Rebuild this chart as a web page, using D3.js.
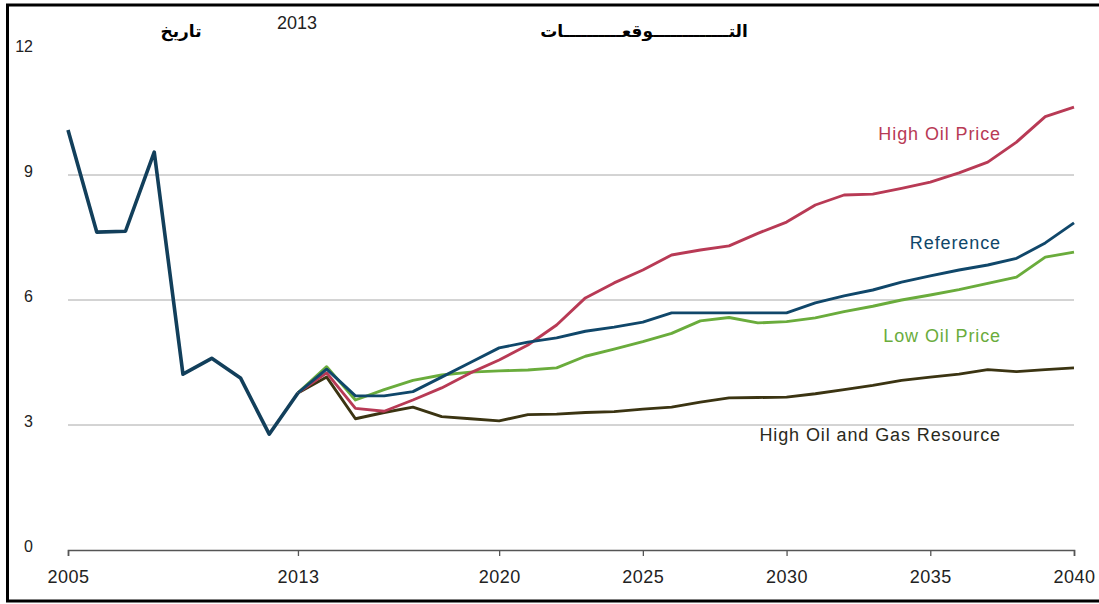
<!DOCTYPE html>
<html>
<head>
<meta charset="utf-8">
<script src="https://cdn.jsdelivr.net/npm/d3@7"></script>
<style>
  html, body { margin: 0; padding: 0; background: #fff; }
  svg { display: block; font-family: "Liberation Sans", Arial, sans-serif; }
</style>
</head>
<body>
<svg id="chart" width="1099" height="604"></svg>
<script>
// Historical values shared by every case
const histYears = [2005, 2006, 2007, 2008, 2009, 2010, 2011, 2012, 2013];
const histValues = [10.08, 7.63, 7.65, 9.55, 4.22, 4.60, 4.13, 2.78, 3.77];

// Projection years and the four cases
const projYears = d3.range(2013, 2041);
const highOilPrice = [3.77, 4.25, 3.40, 3.33, 3.60, 3.89, 4.25, 4.56, 4.92, 5.40, 6.05, 6.41, 6.72, 7.08,
  7.20, 7.30, 7.60, 7.87, 8.28, 8.52, 8.54, 8.68, 8.83, 9.05, 9.31, 9.79, 10.40, 10.63];
const reference = [3.77, 4.34, 3.70, 3.70, 3.80, 4.15, 4.50, 4.85, 4.99, 5.09, 5.25, 5.35, 5.47, 5.69,
  5.69, 5.69, 5.69, 5.69, 5.93, 6.10, 6.24, 6.43, 6.58, 6.72, 6.84, 7.00, 7.37, 7.85];
const lowOilPrice = [3.77, 4.40, 3.60, 3.85, 4.07, 4.20, 4.27, 4.30, 4.32, 4.37, 4.65, 4.82, 5.00, 5.20,
  5.50, 5.58, 5.45, 5.48, 5.57, 5.72, 5.85, 6.00, 6.12, 6.25, 6.40, 6.55, 7.03, 7.15];
const highResource = [3.77, 4.15, 3.15, 3.30, 3.43, 3.20, 3.15, 3.10, 3.25, 3.26, 3.30, 3.32, 3.38, 3.43,
  3.55, 3.65, 3.66, 3.67, 3.75, 3.85, 3.95, 4.07, 4.15, 4.22, 4.33, 4.28, 4.33, 4.37];

const seriesNames = ["High Oil and Gas Resource", "Low Oil Price", "High Oil Price", "Reference"];
const yTicks = [0, 3, 6, 9, 12];
const xTicks = [2005, 2013, 2020, 2025, 2030, 2035, 2040];

const series = [
  { name: seriesNames[0], values: highResource, color: "#3b3412", text: "#2a2a20", label: [1001, 441] },
  { name: seriesNames[1], values: lowOilPrice, color: "#6aac3c", text: "#6aac3c", label: [1001, 342] },
  { name: seriesNames[2], values: highOilPrice, color: "#b83a55", text: "#b83a55", label: [1001, 140] },
  { name: seriesNames[3], values: reference, color: "#10476a", text: "#10476a", label: [1001, 249] }
];

const svg = d3.select("#chart");

// Outer frame
svg.append("rect")
  .attr("x", 7.5).attr("y", 5).attr("width", 1100).attr("height", 596)
  .attr("fill", "none").attr("stroke", "#000").attr("stroke-width", 3);

const x = d3.scaleLinear().domain([2005, 2040]).range([68, 1074]);
const y = d3.scaleLinear().domain([0, 12]).range([550, 50]);

// Horizontal gridlines
svg.append("g").selectAll("line")
  .data(yTicks.filter(t => t > 0 && t < 12))
  .join("line")
  .attr("x1", x(2005)).attr("x2", x(2040))
  .attr("y1", d => y(d)).attr("y2", d => y(d))
  .attr("stroke", "#a8a8a8").attr("stroke-width", 1);

// Y tick labels
svg.append("g").selectAll("text")
  .data(yTicks)
  .join("text")
  .attr("x", 33).attr("y", d => y(d) + 2)
  .attr("text-anchor", "end")
  .attr("font-size", 16).attr("fill", "#222")
  .text(d => d);

// X axis
const xAxis = d3.axisBottom(x)
  .tickValues(xTicks)
  .tickFormat(d3.format("d"))
  .tickSize(6)
  .tickPadding(14);
const gx = svg.append("g").attr("transform", `translate(0,${y(0)})`).call(xAxis);
gx.select(".domain").attr("stroke", "#555").attr("stroke-width", 1.6);
gx.selectAll(".tick line").attr("stroke", "#555").attr("stroke-width", 1.3);
gx.selectAll(".tick text")
  .attr("font-size", 18).attr("fill", "#222")
  .attr("letter-spacing", 0.5)
  .attr("font-family", "Liberation Sans, Arial, sans-serif");

const line = d3.line().x(d => x(d[0])).y(d => y(d[1]));

// Projection lines with their case names
series.forEach(s => {
  svg.append("path")
    .datum(projYears.map((yr, i) => [yr, s.values[i]]))
    .attr("d", line)
    .attr("fill", "none")
    .attr("stroke", s.color)
    .attr("stroke-width", 2.9)
    .attr("stroke-linejoin", "round");
  svg.append("text")
    .attr("x", s.label[0]).attr("y", s.label[1])
    .attr("text-anchor", "end")
    .attr("font-size", 18)
    .attr("letter-spacing", 0.9)
    .attr("fill", s.text)
    .text(s.name);
});

// History line
svg.append("path")
  .datum(histYears.map((yr, i) => [yr, histValues[i]]))
  .attr("d", line)
  .attr("fill", "none")
  .attr("stroke", "#123f5b")
  .attr("stroke-width", 3.6)
  .attr("stroke-linejoin", "round");

// Header texts
svg.append("text")
  .attr("x", 181).attr("y", 37)
  .attr("text-anchor", "middle")
  .attr("font-size", 17).attr("font-weight", "bold")
  .attr("font-family", "DejaVu Sans, sans-serif")
  .text("تاريخ");
svg.append("text")
  .attr("x", 297).attr("y", 29)
  .attr("text-anchor", "middle")
  .attr("font-size", 18).attr("fill", "#222")
  .text("2013");
svg.append("text")
  .attr("x", 644).attr("y", 37)
  .attr("text-anchor", "middle")
  .attr("font-size", 17).attr("font-weight", "bold")
  .attr("font-family", "DejaVu Sans, sans-serif")
  .text("التـــــــــــــوقعــــــــــات");
</script>
</body>
</html>
